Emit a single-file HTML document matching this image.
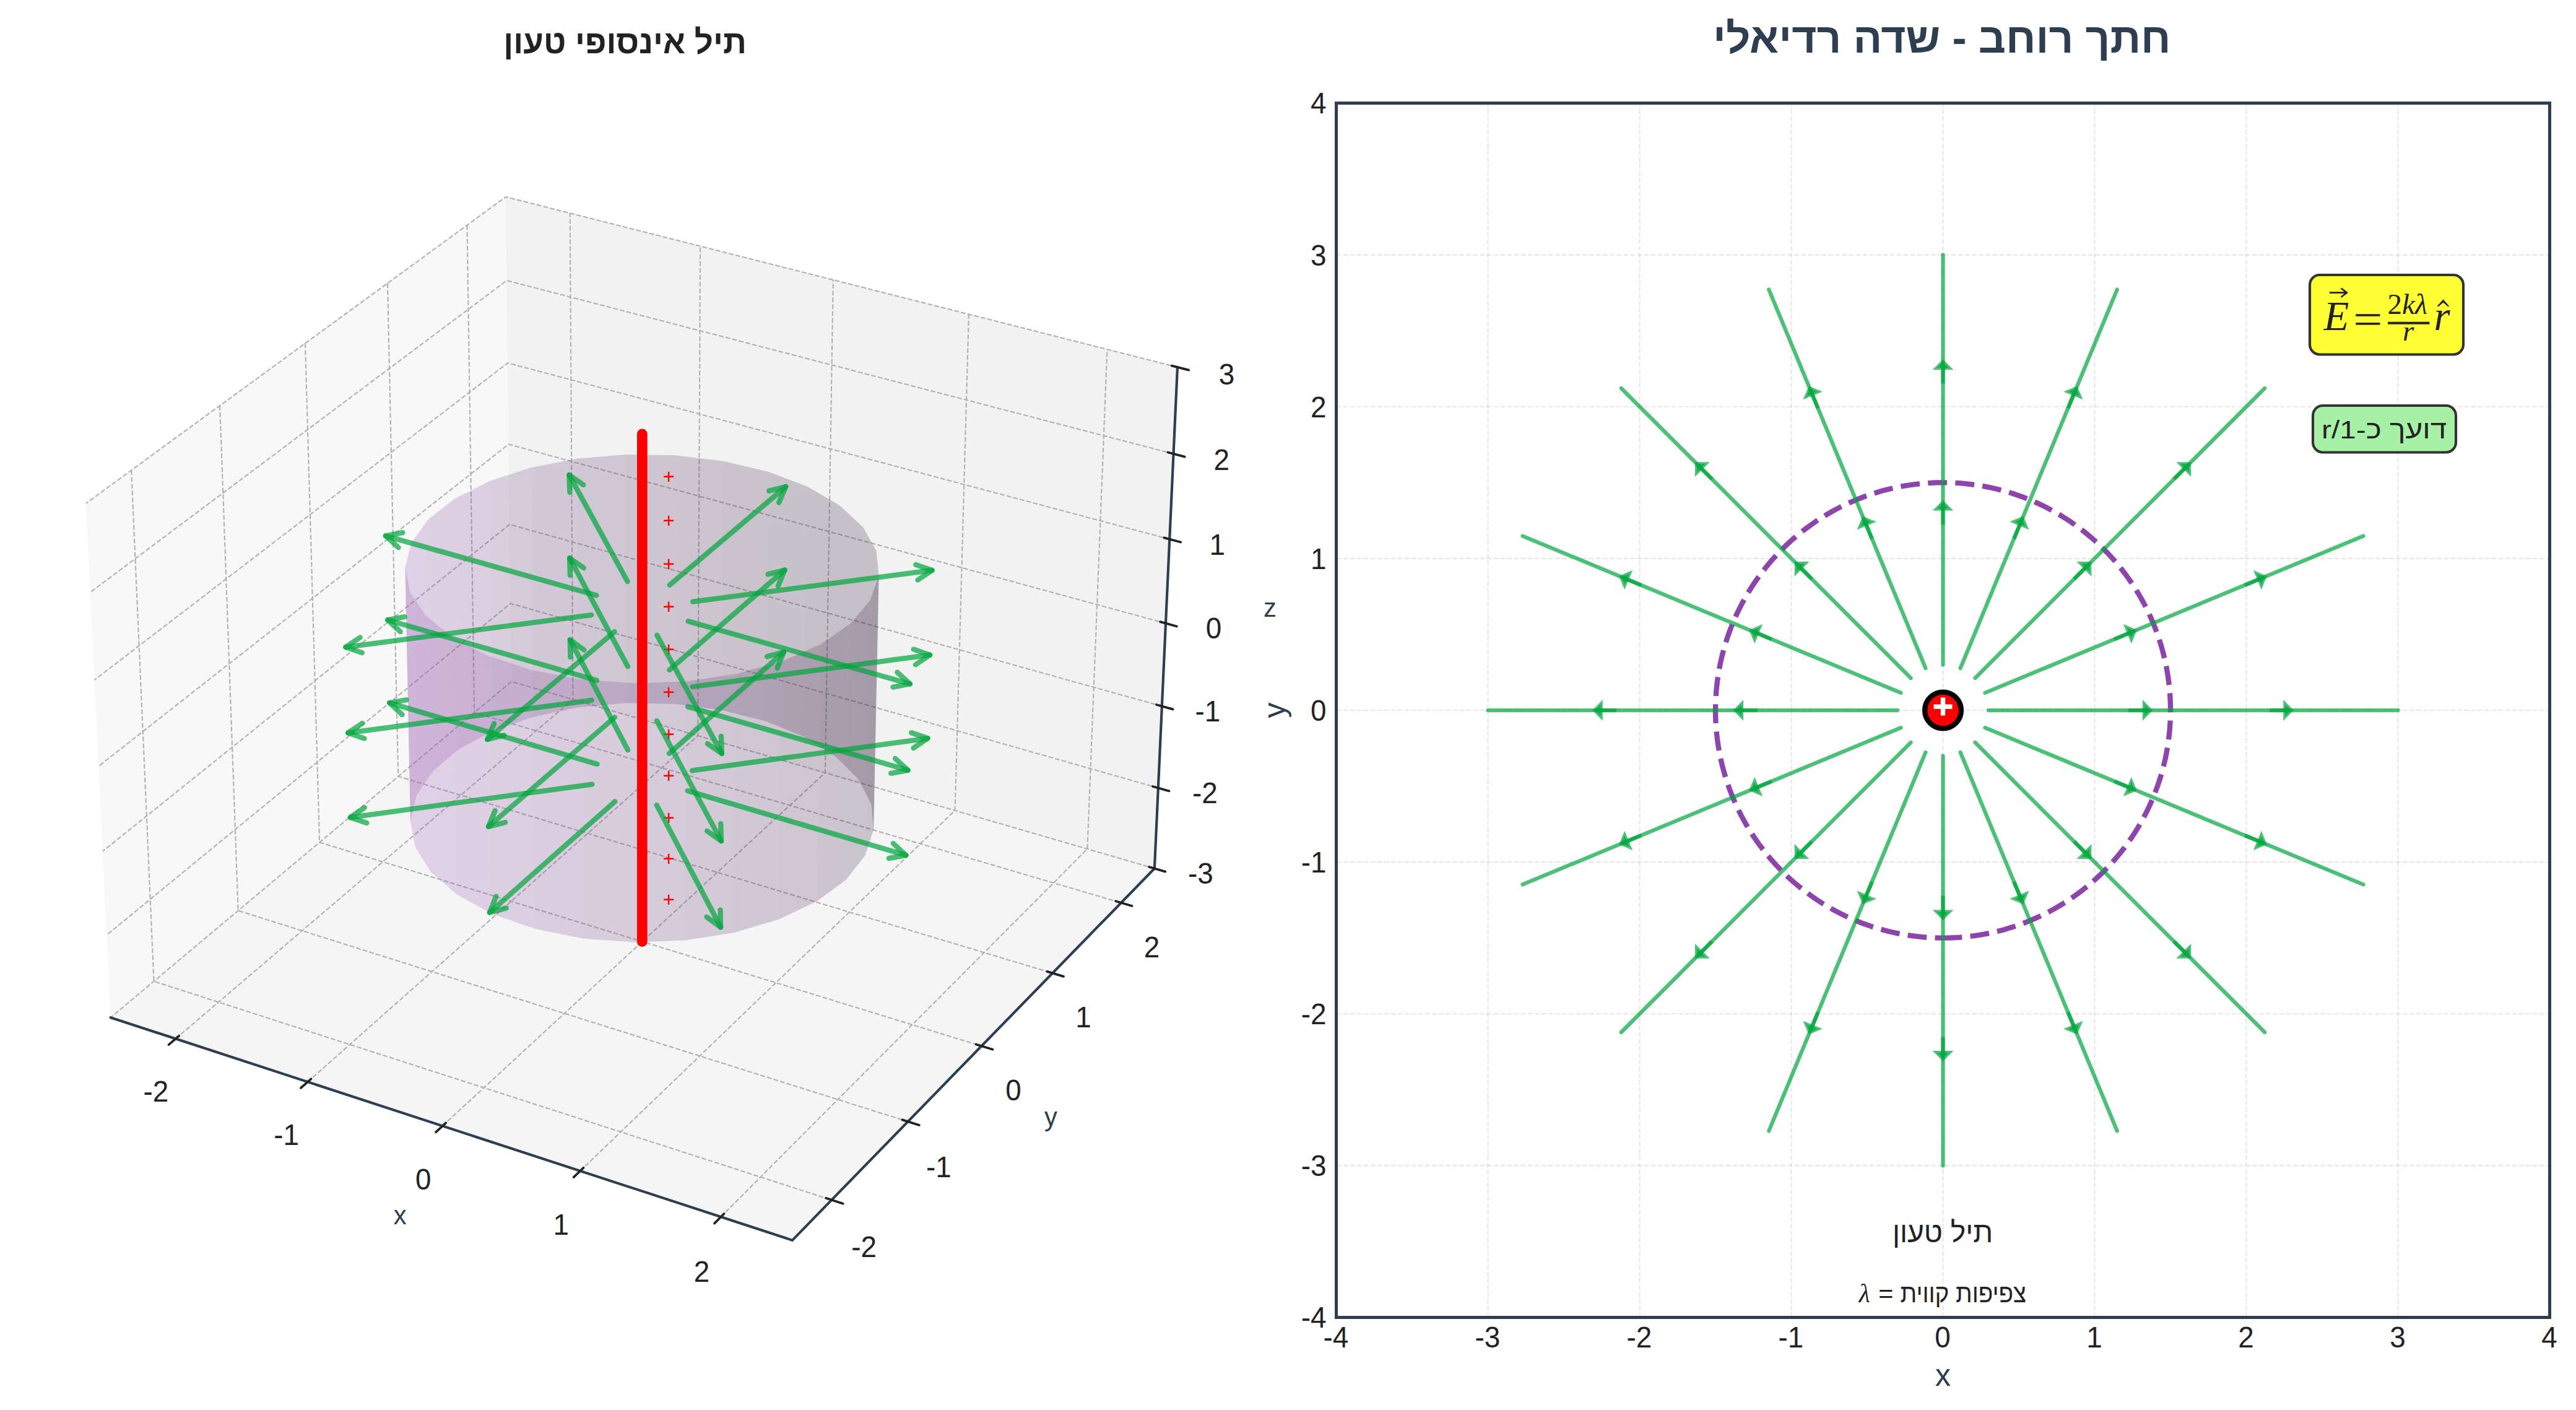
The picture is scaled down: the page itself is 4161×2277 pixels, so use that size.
<!DOCTYPE html>
<html><head><meta charset="utf-8"><title>Infinite charged wire</title>
<style>html,body{margin:0;padding:0;background:#fff;width:4161px;height:2277px;overflow:hidden}svg{display:block}</style>
</head><body>
<svg width="4161" height="2277" viewBox="0 0 4161 2277">
<style>path{stroke-linejoin:round;stroke-linecap:butt}</style>
<g> <g> <path d="M 0 2277 L 4161 2277 L 4161 0 L 0 0 z " style="fill: #ffffff"/> </g> <g> <path d="M 30.6539 2126.5731 L 1991.02653 2126.5731 L 1991.02653 166.20047 L 30.6539 166.20047 z " style="fill: #ffffff"/> </g> <g> <g> <path d="M 178.675553 1643.208034 L 826.054619 1100.562064 L 817.055429 317.969571 L 138.695938 813.00543 " style="fill: #f2f2f2; opacity: 0.5; stroke: #f2f2f2; stroke-linejoin: miter"/> </g> </g> <g> <g> <path d="M 826.054619 1100.562064 L 1864.867032 1402.503821 L 1901.938585 592.955826 L 817.055429 317.969571 " style="fill: #e6e6e6; opacity: 0.5; stroke: #e6e6e6; stroke-linejoin: miter"/> </g> </g> <g> <g> <path d="M 178.675553 1643.208034 L 1279.867449 2002.857305 L 1864.867032 1402.503821 L 826.054619 1100.562064 " style="fill: #ececec; opacity: 0.5; stroke: #ececec; stroke-linejoin: miter"/> </g> </g> <g> <g> <path d="M 283.67714 1677.501552 L 925.504488 1129.468215 L 920.717748 344.244947 " style="fill: none; stroke-dasharray: 7.708333,3.333333; stroke-dashoffset: 0; stroke: #b0b0b0; stroke-width: 2.083333"/> <path d="M 496.967442 1747.162164 L 1127.259519 1188.110438 L 1131.147289 397.582702 " style="fill: none; stroke-dasharray: 7.708333,3.333333; stroke-dashoffset: 0; stroke: #b0b0b0; stroke-width: 2.083333"/> <path d="M 714.756126 1818.291948 L 1332.913574 1247.885952 L 1345.821077 451.996249 " style="fill: none; stroke-dasharray: 7.708333,3.333333; stroke-dashoffset: 0; stroke: #b0b0b0; stroke-width: 2.083333"/> <path d="M 937.187018 1890.937877 L 1542.58078 1308.827932 L 1564.868826 507.518468 " style="fill: none; stroke-dasharray: 7.708333,3.333333; stroke-dashoffset: 0; stroke: #b0b0b0; stroke-width: 2.083333"/> <path d="M 1164.410141 1965.148948 L 1756.379766 1370.970856 L 1788.42559 564.183591 " style="fill: none; stroke-dasharray: 7.708333,3.333333; stroke-dashoffset: 0; stroke: #b0b0b0; stroke-width: 2.083333"/> </g> </g> <g> <g> <path d="M 212.164712 759.391265 L 248.551989 1584.63622 L 1343.259924 1937.801031 " style="fill: none; stroke-dasharray: 7.708333,3.333333; stroke-dashoffset: 0; stroke: #b0b0b0; stroke-width: 2.083333"/> <path d="M 355.108912 655.077099 L 384.671353 1470.538269 L 1466.574903 1811.249527 " style="fill: none; stroke-dasharray: 7.708333,3.333333; stroke-dashoffset: 0; stroke: #b0b0b0; stroke-width: 2.083333"/> <path d="M 492.965529 554.475618 L 516.152397 1360.328252 L 1585.470514 1689.233381 " style="fill: none; stroke-dasharray: 7.708333,3.333333; stroke-dashoffset: 0; stroke: #b0b0b0; stroke-width: 2.083333"/> <path d="M 626.001428 457.392079 L 643.228226 1253.810771 L 1700.180149 1571.513077 " style="fill: none; stroke-dasharray: 7.708333,3.333333; stroke-dashoffset: 0; stroke: #b0b0b0; stroke-width: 2.083333"/> <path d="M 754.465125 363.645124 L 766.116586 1150.803311 L 1810.921047 1457.865673 " style="fill: none; stroke-dasharray: 7.708333,3.333333; stroke-dashoffset: 0; stroke: #b0b0b0; stroke-width: 2.083333"/> </g> </g> <g> <g> <path d="M 1864.867032 1402.503821 L 826.054619 1100.562064 L 178.675553 1643.208034 " style="fill: none; stroke-dasharray: 7.708333,3.333333; stroke-dashoffset: 0; stroke: #b0b0b0; stroke-width: 2.083333"/> <path d="M 1870.82327 1272.4348 L 824.606167 974.600996 L 172.261166 1510.009126 " style="fill: none; stroke-dasharray: 7.708333,3.333333; stroke-dashoffset: 0; stroke: #b0b0b0; stroke-width: 2.083333"/> <path d="M 1876.865871 1140.479844 L 823.137718 846.900904 L 165.750223 1374.805179 " style="fill: none; stroke-dasharray: 7.708333,3.333333; stroke-dashoffset: 0; stroke: #b0b0b0; stroke-width: 2.083333"/> <path d="M 1882.996726 1006.597637 L 821.648854 717.425523 L 159.140528 1237.550575 " style="fill: none; stroke-dasharray: 7.708333,3.333333; stroke-dashoffset: 0; stroke: #b0b0b0; stroke-width: 2.083333"/> <path d="M 1889.217783 870.745646 L 820.139147 586.137576 L 152.429816 1098.198306 " style="fill: none; stroke-dasharray: 7.708333,3.333333; stroke-dashoffset: 0; stroke: #b0b0b0; stroke-width: 2.083333"/> <path d="M 1895.531047 732.880076 L 818.608157 452.998732 L 145.615755 956.699911 " style="fill: none; stroke-dasharray: 7.708333,3.333333; stroke-dashoffset: 0; stroke: #b0b0b0; stroke-width: 2.083333"/> <path d="M 1901.938585 592.955826 L 817.055429 317.969571 L 138.695938 813.00543 " style="fill: none; stroke-dasharray: 7.708333,3.333333; stroke-dashoffset: 0; stroke: #b0b0b0; stroke-width: 2.083333"/> </g> </g> <g> <g> <path d="M 178.675553 1643.208034 L 1279.867449 2002.857305 " style="fill: none; stroke: #2c3e50; stroke-width: 4.166667; stroke-linecap: round"/> </g> <g> <g> <path d="M 289.266989 1672.728581 L 272.47341 1687.068014 " style="fill: none; stroke: #222222; stroke-width: 3.75; stroke-linecap: round"/> </g> </g> <g> <g> <path d="M 502.461488 1742.289096 L 485.955482 1756.92947 " style="fill: none; stroke: #222222; stroke-width: 3.75; stroke-linecap: round"/> </g> </g> <g> <g> <path d="M 720.149067 1813.315601 L 703.946568 1828.266488 " style="fill: none; stroke: #222222; stroke-width: 3.75; stroke-linecap: round"/> </g> </g> <g> <g> <path d="M 942.473275 1885.854932 L 926.591049 1901.126318 " style="fill: none; stroke: #222222; stroke-width: 3.75; stroke-linecap: round"/> </g> </g> <g> <g> <path d="M 1169.583844 1959.955944 L 1154.039533 1975.558246 " style="fill: none; stroke: #222222; stroke-width: 3.75; stroke-linecap: round"/> </g> </g> </g> <g> <g> <path d="M 1864.867032 1402.503821 L 1279.867449 2002.857305 " style="fill: none; stroke: #2c3e50; stroke-width: 4.166667; stroke-linecap: round"/> </g> <g> <g> <path d="M 1334.036367 1934.82541 L 1361.730813 1943.759942 " style="fill: none; stroke: #222222; stroke-width: 3.75; stroke-linecap: round"/> </g> </g> <g> <g> <path d="M 1457.467628 1808.381479 L 1484.812498 1816.99288 " style="fill: none; stroke: #222222; stroke-width: 3.75; stroke-linecap: round"/> </g> </g> <g> <g> <path d="M 1576.477184 1686.467176 L 1603.479524 1694.772664 " style="fill: none; stroke: #222222; stroke-width: 3.75; stroke-linecap: round"/> </g> </g> <g> <g> <path d="M 1691.298454 1568.843386 L 1717.965221 1576.858976 " style="fill: none; stroke: #222222; stroke-width: 3.75; stroke-linecap: round"/> </g> </g> <g> <g> <path d="M 1802.148711 1455.287531 L 1828.486762 1463.028141 " style="fill: none; stroke: #222222; stroke-width: 3.75; stroke-linecap: round"/> </g> </g> </g> <g> <g> <path d="M 1864.867032 1402.503821 L 1901.938585 592.955826 " style="fill: none; stroke: #2c3e50; stroke-width: 4.166667; stroke-linecap: round"/> </g> <g> <g> <path d="M 1856.148534 1399.969698 L 1882.324763 1407.578094 " style="fill: none; stroke: #222222; stroke-width: 3.75; stroke-linecap: round"/> </g> </g> <g> <g> <path d="M 1862.03967 1269.934312 L 1888.41151 1277.441765 " style="fill: none; stroke: #222222; stroke-width: 3.75; stroke-linecap: round"/> </g> </g> <g> <g> <path d="M 1868.016191 1138.014237 L 1894.586584 1145.417008 " style="fill: none; stroke: #222222; stroke-width: 3.75; stroke-linecap: round"/> </g> </g> <g> <g> <path d="M 1874.079965 1004.168199 L 1900.851919 1011.462417 " style="fill: none; stroke: #222222; stroke-width: 3.75; stroke-linecap: round"/> </g> </g> <g> <g> <path d="M 1880.232918 868.353712 L 1907.209511 875.535369 " style="fill: none; stroke: #222222; stroke-width: 3.75; stroke-linecap: round"/> </g> </g> <g> <g> <path d="M 1886.477032 730.527029 L 1913.661411 737.591974 " style="fill: none; stroke: #222222; stroke-width: 3.75; stroke-linecap: round"/> </g> </g> <g> <g> <path d="M 1892.814347 590.643098 L 1920.209735 597.58703 " style="fill: none; stroke: #222222; stroke-width: 3.75; stroke-linecap: round"/> </g> </g> </g> <g> <g> <path d="M 1089.621569 1136.777693 L 1011.124564 1135.35611 L 1010.550877 733.920258 L 1090.766488 735.277887 z " style="fill: #563165; fill-opacity: 0.23"/> <path d="M 1011.124564 1135.35611 L 933.745703 1142.433525 L 931.475484 740.679411 L 1010.550877 733.920258 z " style="fill: #613771; fill-opacity: 0.23"/> <path d="M 1165.886036 1146.643407 L 1089.621569 1136.777693 L 1090.766488 735.277887 L 1168.705439 744.700141 z " style="fill: #4c2b59; fill-opacity: 0.23"/> <path d="M 933.745703 1142.433525 L 860.801822 1157.735952 L 856.923093 755.294874 L 931.475484 740.679411 z " style="fill: #6c3e7e; fill-opacity: 0.23"/> <path d="M 1236.63512 1164.570173 L 1165.886036 1146.643407 L 1168.705439 744.700141 L 1241.019198 761.822805 z " style="fill: #43264e; fill-opacity: 0.23"/> <path d="M 860.801822 1157.735952 L 795.472938 1180.663905 L 790.138568 777.196522 L 856.923093 755.294874 z " style="fill: #76448b; fill-opacity: 0.23"/> <path d="M 1298.758038 1189.851593 L 1236.63512 1164.570173 L 1241.019198 761.822805 L 1304.532746 785.973956 z " style="fill: #3b2246; fill-opacity: 0.23"/> <path d="M 795.472938 1180.663905 L 740.694542 1210.300959 L 734.119917 805.51227 L 790.138568 777.196522 z " style="fill: #804a97; fill-opacity: 0.23"/> <path d="M 1349.425874 1221.468725 L 1298.758038 1189.851593 L 1304.532746 785.973956 L 1356.355803 816.183699 z " style="fill: #361f3f; fill-opacity: 0.23"/> <path d="M 740.694542 1210.300959 L 699.043299 1245.429939 L 691.502152 839.082859 L 734.119917 805.51227 z " style="fill: #894fa1; fill-opacity: 0.23"/> <path d="M 1386.208058 1258.109535 L 1349.425874 1221.468725 L 1356.355803 816.183699 L 1394.001378 851.202032 z " style="fill: #331d3b; fill-opacity: 0.23"/> <path d="M 699.043299 1245.429939 L 672.61696 1284.560104 L 664.434617 876.48705 L 691.502152 839.082859 z " style="fill: #9053a9; fill-opacity: 0.23"/> <path d="M 1407.19362 1298.200563 L 1386.208058 1258.109535 L 1394.001378 851.202032 L 1415.509858 889.528305 z " style="fill: #321c3a; fill-opacity: 0.23"/> <path d="M 672.61696 1284.560104 L 662.91281 1325.968947 L 654.45614 916.080793 L 664.434617 876.48705 z " style="fill: #9555af; fill-opacity: 0.23"/> <path d="M 1411.111566 1339.954329 L 1407.19362 1298.200563 L 1415.509858 889.528305 L 1419.572894 929.455792 z " style="fill: #331d3c; fill-opacity: 0.23"/> <path d="M 662.91281 1325.968947 L 670.712996 1367.761702 L 662.376536 956.053498 L 654.45614 916.080793 z " style="fill: #9757b2; fill-opacity: 0.23"/> <path d="M 1397.440745 1381.435203 L 1411.111566 1339.954329 L 1419.572894 929.455792 L 1405.647171 969.134116 z " style="fill: #372040; fill-opacity: 0.23"/> <path d="M 670.712996 1367.761702 L 695.988808 1407.950117 L 688.176966 994.502988 L 662.376536 956.053498 z " style="fill: #9857b2; fill-opacity: 0.23"/> <path d="M 1366.496056 1420.644516 L 1397.440745 1381.435203 L 1405.647171 969.134116 L 1374.044453 1006.650404 z " style="fill: #3d2347; fill-opacity: 0.23"/> <path d="M 695.988808 1407.950117 L 737.838587 1444.549465 L 730.944442 1029.528315 L 688.176966 994.502988 z " style="fill: #9656b0; fill-opacity: 0.23"/> <path d="M 1319.475922 1455.622876 L 1366.496056 1420.644516 L 1374.044453 1006.650404 L 1325.982125 1040.127299 z " style="fill: #452751; fill-opacity: 0.23"/> <path d="M 737.838587 1444.549465 L 794.474331 1475.68947 L 788.856259 1059.3363 L 730.944442 1029.528315 z " style="fill: #9153ab; fill-opacity: 0.23"/> <path d="M 1258.456474 1484.564132 L 1319.475922 1455.622876 L 1325.982125 1040.127299 L 1263.578974 1067.832562 z " style="fill: #4e2d5c; fill-opacity: 0.23"/> <path d="M 794.474331 1475.68947 L 863.269372 1499.731216 L 859.227449 1082.354195 L 788.856259 1059.3363 z " style="fill: #8b50a3; fill-opacity: 0.23"/> <path d="M 1186.3217 1505.931977 L 1258.456474 1484.564132 L 1263.578974 1067.832562 L 1189.784791 1088.29153 z " style="fill: #583368; fill-opacity: 0.23"/> <path d="M 863.269372 1499.731216 L 940.87355 1515.379171 L 938.628164 1097.337885 L 859.227449 1082.354195 z " style="fill: #834b99; fill-opacity: 0.23"/> <path d="M 1106.625815 1518.5676 L 1186.3217 1505.931977 L 1189.784791 1088.29153 L 1108.239674 1100.391169 z " style="fill: #633975; fill-opacity: 0.23"/> <path d="M 940.87355 1515.379171 L 1023.393507 1521.775886 L 1023.068722 1103.463538 L 938.628164 1097.337885 z " style="fill: #79458e; fill-opacity: 0.23"/> <path d="M 1023.393507 1521.775886 L 1106.625815 1518.5676 L 1108.239674 1100.391169 L 1023.068722 1103.463538 z " style="fill: #6e3f82; fill-opacity: 0.23"/> </g> <text x="1080.3" y="1464.1" style="font-family:'Liberation Sans';font-size:33.33px;fill:#ff0000" text-anchor="middle">+</text>
<text x="1080.3" y="1398.0" style="font-family:'Liberation Sans';font-size:33.33px;fill:#ff0000" text-anchor="middle">+</text>
<text x="1080.3" y="1331.5" style="font-family:'Liberation Sans';font-size:33.33px;fill:#ff0000" text-anchor="middle">+</text>
<text x="1080.3" y="1264.4" style="font-family:'Liberation Sans';font-size:33.33px;fill:#ff0000" text-anchor="middle">+</text>
<text x="1080.3" y="1196.9" style="font-family:'Liberation Sans';font-size:33.33px;fill:#ff0000" text-anchor="middle">+</text>
<text x="1080.3" y="1128.9" style="font-family:'Liberation Sans';font-size:33.33px;fill:#ff0000" text-anchor="middle">+</text>
<text x="1080.3" y="1060.4" style="font-family:'Liberation Sans';font-size:33.33px;fill:#ff0000" text-anchor="middle">+</text>
<text x="1080.3" y="991.3" style="font-family:'Liberation Sans';font-size:33.33px;fill:#ff0000" text-anchor="middle">+</text>
<text x="1080.3" y="921.7" style="font-family:'Liberation Sans';font-size:33.33px;fill:#ff0000" text-anchor="middle">+</text>
<text x="1080.3" y="851.6" style="font-family:'Liberation Sans';font-size:33.33px;fill:#ff0000" text-anchor="middle">+</text>
<text x="1080.3" y="781.0" style="font-family:'Liberation Sans';font-size:33.33px;fill:#ff0000" text-anchor="middle">+</text><g> <path d="M 1111.601923 1003.267866 Q 1295.262796 1055.093877 1469.956881 1104.389612 " style="fill: none; opacity: 0.7; stroke: #00a53c; stroke-width: 8.333333; stroke-linecap: round"/> <path d="M 1449.291191 1085.569961 L 1469.956881 1104.389612 L 1442.501747 1109.630374 " style="fill: none; opacity: 0.7; stroke: #00a53c; stroke-width: 8.333333; stroke-linecap: round"/> </g> <g> <path d="M 1119.135557 971.596903 Q 1317.019455 945.681697 1505.665287 920.976323 " style="fill: none; opacity: 0.7; stroke: #00a53c; stroke-width: 8.333333; stroke-linecap: round"/> <path d="M 1479.253794 911.828478 L 1505.665287 920.976323 L 1482.500116 936.61681 " style="fill: none; opacity: 0.7; stroke: #00a53c; stroke-width: 8.333333; stroke-linecap: round"/> </g> <g> <path d="M 1081.614795 944.822265 Q 1178.974475 862.40247 1269.223111 786.002526 " style="fill: none; opacity: 0.7; stroke: #00a53c; stroke-width: 8.333333; stroke-linecap: round"/> <path d="M 1242.065699 792.615015 L 1269.223111 786.002526 L 1258.218655 811.695948 " style="fill: none; opacity: 0.7; stroke: #00a53c; stroke-width: 8.333333; stroke-linecap: round"/> </g> <g> <path d="M 1013.705804 939.21493 Q 964.269847 849.040737 919.312779 767.036312 " style="fill: none; opacity: 0.7; stroke: #00a53c; stroke-width: 8.333333; stroke-linecap: round"/> <path d="M 920.370009 794.96716 L 919.312779 767.036312 L 942.291795 782.949037 " style="fill: none; opacity: 0.7; stroke: #00a53c; stroke-width: 8.333333; stroke-linecap: round"/> </g> <g> <path d="M 963.473868 961.468619 Q 788.756874 912.166421 623.006666 865.394498 " style="fill: none; opacity: 0.7; stroke: #00a53c; stroke-width: 8.333333; stroke-linecap: round"/> <path d="M 643.672357 884.214148 L 623.006666 865.394498 L 650.461801 860.153736 " style="fill: none; opacity: 0.7; stroke: #00a53c; stroke-width: 8.333333; stroke-linecap: round"/> </g> <g> <path d="M 955.289711 993.05443 Q 752.241779 1019.645927 558.431913 1045.027591 " style="fill: none; opacity: 0.7; stroke: #00a53c; stroke-width: 8.333333; stroke-linecap: round"/> <path d="M 584.843406 1054.175436 L 558.431913 1045.027591 L 581.597084 1029.387104 " style="fill: none; opacity: 0.7; stroke: #00a53c; stroke-width: 8.333333; stroke-linecap: round"/> </g> <g> <path d="M 992.638369 1020.14522 Q 886.324839 1110.144893 787.122353 1194.124715 " style="fill: none; opacity: 0.7; stroke: #00a53c; stroke-width: 8.333333; stroke-linecap: round"/> <path d="M 814.279764 1187.512226 L 787.122353 1194.124715 L 798.126809 1168.431292 " style="fill: none; opacity: 0.7; stroke: #00a53c; stroke-width: 8.333333; stroke-linecap: round"/> </g> <g> <path d="M 1061.193051 1025.834556 Q 1115.799568 1125.440164 1165.927196 1216.876006 " style="fill: none; opacity: 0.7; stroke: #00a53c; stroke-width: 8.333333; stroke-linecap: round"/> <path d="M 1164.869967 1188.945158 L 1165.927196 1216.876006 L 1142.94818 1200.96328 " style="fill: none; opacity: 0.7; stroke: #00a53c; stroke-width: 8.333333; stroke-linecap: round"/> </g> <g> <path d="M 1111.092788 1141.188244 Q 1293.30867 1193.789438 1466.573116 1243.806575 " style="fill: none; opacity: 0.7; stroke: #00a53c; stroke-width: 8.333333; stroke-linecap: round"/> <path d="M 1446.020769 1224.863211 L 1466.573116 1243.806575 L 1439.087017 1248.882434 " style="fill: none; opacity: 0.7; stroke: #00a53c; stroke-width: 8.333333; stroke-linecap: round"/> </g> <g> <path d="M 1118.584724 1109.009426 Q 1314.959112 1082.700247 1502.099057 1057.628248 " style="fill: none; opacity: 0.7; stroke: #00a53c; stroke-width: 8.333333; stroke-linecap: round"/> <path d="M 1475.660594 1048.558647 L 1502.099057 1057.628248 L 1478.980298 1073.337258 " style="fill: none; opacity: 0.7; stroke: #00a53c; stroke-width: 8.333333; stroke-linecap: round"/> </g> <g> <path d="M 1081.276125 1081.838306 Q 1177.955469 998.111539 1267.59186 920.484146 " style="fill: none; opacity: 0.7; stroke: #00a53c; stroke-width: 8.333333; stroke-linecap: round"/> <path d="M 1240.510466 927.401376 L 1267.59186 920.484146 L 1256.876808 946.2996 " style="fill: none; opacity: 0.7; stroke: #00a53c; stroke-width: 8.333333; stroke-linecap: round"/> </g> <g> <path d="M 1013.921508 1076.211181 Q 964.7966 984.542854 920.07253 901.086602 " style="fill: none; opacity: 0.7; stroke: #00a53c; stroke-width: 8.333333; stroke-linecap: round"/> <path d="M 920.863562 929.026256 L 920.07253 901.086602 L 942.898872 917.217569 " style="fill: none; opacity: 0.7; stroke: #00a53c; stroke-width: 8.333333; stroke-linecap: round"/> </g> <g> <path d="M 963.976216 1098.719348 Q 790.572231 1048.661929 626.119682 1001.188567 " style="fill: none; opacity: 0.7; stroke: #00a53c; stroke-width: 8.333333; stroke-linecap: round"/> <path d="M 646.672029 1020.131931 L 626.119682 1001.188567 L 653.605781 996.112708 " style="fill: none; opacity: 0.7; stroke: #00a53c; stroke-width: 8.333333; stroke-linecap: round"/> </g> <g> <path d="M 955.844184 1130.812525 Q 754.385344 1157.802891 562.160947 1183.556077 " style="fill: none; opacity: 0.7; stroke: #00a53c; stroke-width: 8.333333; stroke-linecap: round"/> <path d="M 588.59941 1192.625678 L 562.160947 1183.556077 L 585.279706 1167.847067 " style="fill: none; opacity: 0.7; stroke: #00a53c; stroke-width: 8.333333; stroke-linecap: round"/> </g> <g> <path d="M 992.981276 1158.303889 Q 887.482381 1249.668611 789.026439 1334.933958 " style="fill: none; opacity: 0.7; stroke: #00a53c; stroke-width: 8.333333; stroke-linecap: round"/> <path d="M 816.107834 1328.016729 L 789.026439 1334.933958 L 799.741492 1309.118505 " style="fill: none; opacity: 0.7; stroke: #00a53c; stroke-width: 8.333333; stroke-linecap: round"/> </g> <g> <path d="M 1060.974163 1164.01263 Q 1115.194493 1265.189143 1165.013985 1358.15358 " style="fill: none; opacity: 0.7; stroke: #00a53c; stroke-width: 8.333333; stroke-linecap: round"/> <path d="M 1164.222953 1330.213926 L 1165.013985 1358.15358 L 1142.187642 1342.022613 " style="fill: none; opacity: 0.7; stroke: #00a53c; stroke-width: 8.333333; stroke-linecap: round"/> </g> <g> <path d="M 1110.5912 1277.064936 Q 1291.381133 1330.410836 1463.235015 1381.119965 " style="fill: none; opacity: 0.7; stroke: #00a53c; stroke-width: 8.333333; stroke-linecap: round"/> <path d="M 1442.794676 1362.055796 L 1463.235015 1381.119965 L 1435.719477 1386.033735 " style="fill: none; opacity: 0.7; stroke: #00a53c; stroke-width: 8.333333; stroke-linecap: round"/> </g> <g> <path d="M 1118.042014 1244.39547 Q 1312.925891 1217.707485 1498.57897 1192.283593 " style="fill: none; opacity: 0.7; stroke: #00a53c; stroke-width: 8.333333; stroke-linecap: round"/> <path d="M 1472.114182 1183.291096 L 1498.57897 1192.283593 L 1475.5061 1208.059925 " style="fill: none; opacity: 0.7; stroke: #00a53c; stroke-width: 8.333333; stroke-linecap: round"/> </g> <g> <path d="M 1080.93616 1216.848952 Q 1176.944817 1131.860788 1265.977181 1053.048132 " style="fill: none; opacity: 0.7; stroke: #00a53c; stroke-width: 8.333333; stroke-linecap: round"/> <path d="M 1238.972511 1060.259082 L 1265.977181 1053.048132 L 1255.543138 1078.978438 " style="fill: none; opacity: 0.7; stroke: #00a53c; stroke-width: 8.333333; stroke-linecap: round"/> </g> <g> <path d="M 1014.130869 1211.195536 Q 965.314148 1118.083981 920.823617 1033.22407 " style="fill: none; opacity: 0.7; stroke: #00a53c; stroke-width: 8.333333; stroke-linecap: round"/> <path d="M 921.361258 1061.169749 L 920.823617 1033.22407 L 943.502745 1049.561364 " style="fill: none; opacity: 0.7; stroke: #00a53c; stroke-width: 8.333333; stroke-linecap: round"/> </g> <g> <path d="M 964.47117 1233.949125 Q 792.363931 1183.165238 629.192743 1135.018122 " style="fill: none; opacity: 0.7; stroke: #00a53c; stroke-width: 8.333333; stroke-linecap: round"/> <path d="M 649.633082 1154.08229 L 629.192743 1135.018122 L 656.708281 1130.104351 " style="fill: none; opacity: 0.7; stroke: #00a53c; stroke-width: 8.333333; stroke-linecap: round"/> </g> <g> <path d="M 956.390453 1266.532522 Q 756.496935 1293.906543 565.834215 1320.016471 " style="fill: none; opacity: 0.7; stroke: #00a53c; stroke-width: 8.333333; stroke-linecap: round"/> <path d="M 592.299003 1329.008967 L 565.834215 1320.016471 L 588.907085 1304.240138 " style="fill: none; opacity: 0.7; stroke: #00a53c; stroke-width: 8.333333; stroke-linecap: round"/> </g> <g> <path d="M 993.325831 1294.402804 Q 888.629037 1387.081825 790.908536 1473.585338 " style="fill: none; opacity: 0.7; stroke: #00a53c; stroke-width: 8.333333; stroke-linecap: round"/> <path d="M 817.913206 1466.374388 L 790.908536 1473.585338 L 801.342578 1447.655032 " style="fill: none; opacity: 0.7; stroke: #00a53c; stroke-width: 8.333333; stroke-linecap: round"/> </g> <g> <path d="M 1060.762093 1300.13854 Q 1114.598819 1402.825102 1164.109355 1497.260021 " style="fill: none; opacity: 0.7; stroke: #00a53c; stroke-width: 8.333333; stroke-linecap: round"/> <path d="M 1163.571713 1469.314342 L 1164.109355 1497.260021 L 1141.430227 1480.922727 " style="fill: none; opacity: 0.7; stroke: #00a53c; stroke-width: 8.333333; stroke-linecap: round"/> </g> <g> <path d="M 1037.331737 1520.634671 L 1037.331737 700.857251 " style="fill: none; stroke: #ff0000; stroke-width: 16.666667; stroke-linecap: round"/> </g> </g> </g>  
<path d="M2403.50 2127.50L2403.50 166.50" style="fill:none;stroke:#b0b0b0;stroke-opacity:0.3;stroke-width:2.083;stroke-dasharray:7.708,3.333"/>
<path d="M2158.50 1882.38L4118.50 1882.38" style="fill:none;stroke:#b0b0b0;stroke-opacity:0.3;stroke-width:2.083;stroke-dasharray:7.708,3.333"/>
<path d="M2648.50 2127.50L2648.50 166.50" style="fill:none;stroke:#b0b0b0;stroke-opacity:0.3;stroke-width:2.083;stroke-dasharray:7.708,3.333"/>
<path d="M2158.50 1637.25L4118.50 1637.25" style="fill:none;stroke:#b0b0b0;stroke-opacity:0.3;stroke-width:2.083;stroke-dasharray:7.708,3.333"/>
<path d="M2893.50 2127.50L2893.50 166.50" style="fill:none;stroke:#b0b0b0;stroke-opacity:0.3;stroke-width:2.083;stroke-dasharray:7.708,3.333"/>
<path d="M2158.50 1392.12L4118.50 1392.12" style="fill:none;stroke:#b0b0b0;stroke-opacity:0.3;stroke-width:2.083;stroke-dasharray:7.708,3.333"/>
<path d="M3138.50 2127.50L3138.50 166.50" style="fill:none;stroke:#b0b0b0;stroke-opacity:0.3;stroke-width:2.083;stroke-dasharray:7.708,3.333"/>
<path d="M2158.50 1147.00L4118.50 1147.00" style="fill:none;stroke:#b0b0b0;stroke-opacity:0.3;stroke-width:2.083;stroke-dasharray:7.708,3.333"/>
<path d="M3383.50 2127.50L3383.50 166.50" style="fill:none;stroke:#b0b0b0;stroke-opacity:0.3;stroke-width:2.083;stroke-dasharray:7.708,3.333"/>
<path d="M2158.50 901.88L4118.50 901.88" style="fill:none;stroke:#b0b0b0;stroke-opacity:0.3;stroke-width:2.083;stroke-dasharray:7.708,3.333"/>
<path d="M3628.50 2127.50L3628.50 166.50" style="fill:none;stroke:#b0b0b0;stroke-opacity:0.3;stroke-width:2.083;stroke-dasharray:7.708,3.333"/>
<path d="M2158.50 656.75L4118.50 656.75" style="fill:none;stroke:#b0b0b0;stroke-opacity:0.3;stroke-width:2.083;stroke-dasharray:7.708,3.333"/>
<path d="M3873.50 2127.50L3873.50 166.50" style="fill:none;stroke:#b0b0b0;stroke-opacity:0.3;stroke-width:2.083;stroke-dasharray:7.708,3.333"/>
<path d="M2158.50 411.62L4118.50 411.62" style="fill:none;stroke:#b0b0b0;stroke-opacity:0.3;stroke-width:2.083;stroke-dasharray:7.708,3.333"/>
<path d="M3138.50 1514.69L3144.91 1514.63L3151.33 1514.46L3157.73 1514.18L3164.14 1513.79L3170.53 1513.29L3176.91 1512.67L3183.29 1511.95L3189.65 1511.11L3195.99 1510.16L3202.32 1509.10L3208.62 1507.93L3214.91 1506.65L3221.17 1505.26L3227.41 1503.77L3233.62 1502.16L3239.80 1500.44L3245.95 1498.62L3252.06 1496.69L3258.15 1494.66L3264.19 1492.51L3270.20 1490.27L3276.17 1487.91L3282.09 1485.46L3287.98 1482.90L3293.81 1480.24L3299.60 1477.48L3305.34 1474.61L3311.03 1471.65L3316.67 1468.59L3322.25 1465.43L3327.78 1462.17L3333.25 1458.82L3338.65 1455.37L3344.00 1451.83L3349.29 1448.19L3354.51 1444.47L3359.67 1440.65L3364.76 1436.74L3369.78 1432.75L3374.72 1428.66L3379.60 1424.50L3384.41 1420.25L3389.13 1415.91L3393.79 1411.49L3398.36 1406.99L3402.86 1402.42L3407.27 1397.76L3411.61 1393.03L3415.86 1388.22L3420.02 1383.34L3424.10 1378.39L3428.09 1373.37L3432.00 1368.28L3435.81 1363.12L3439.54 1357.90L3443.17 1352.61L3446.71 1347.26L3450.16 1341.84L3453.51 1336.37L3456.76 1330.84L3459.92 1325.26L3462.98 1319.62L3465.94 1313.93L3468.81 1308.18L3471.57 1302.39L3474.23 1296.55L3476.79 1290.67L3479.24 1284.74L3481.59 1278.77L3483.84 1272.76L3485.98 1266.71L3488.01 1260.62L3489.94 1254.50L3491.76 1248.35L3493.48 1242.16L3495.08 1235.95L3496.58 1229.71L3497.97 1223.45L3499.25 1217.16L3500.42 1210.85L3501.48 1204.52L3502.42 1198.17L3503.26 1191.81L3503.99 1185.43L3504.60 1179.05L3505.10 1172.65L3505.50 1166.24L3505.78 1159.83L3505.94 1153.42L3506.00 1147.00L3505.94 1140.58L3505.78 1134.17L3505.50 1127.76L3505.10 1121.35L3504.60 1114.95L3503.99 1108.57L3503.26 1102.19L3502.42 1095.83L3501.48 1089.48L3500.42 1083.15L3499.25 1076.84L3497.97 1070.55L3496.58 1064.29L3495.08 1058.05L3493.48 1051.84L3491.76 1045.65L3489.94 1039.50L3488.01 1033.38L3485.98 1027.29L3483.84 1021.24L3481.59 1015.23L3479.24 1009.26L3476.79 1003.33L3474.23 997.45L3471.57 991.61L3468.81 985.82L3465.94 980.07L3462.98 974.38L3459.92 968.74L3456.76 963.16L3453.51 957.63L3450.16 952.16L3446.71 946.74L3443.17 941.39L3439.54 936.10L3435.81 930.88L3432.00 925.72L3428.09 920.63L3424.10 915.61L3420.02 910.66L3415.86 905.78L3411.61 900.97L3407.27 896.24L3402.86 891.58L3398.36 887.01L3393.79 882.51L3389.13 878.09L3384.41 873.75L3379.60 869.50L3374.72 865.34L3369.78 861.25L3364.76 857.26L3359.67 853.35L3354.51 849.53L3349.29 845.81L3344.00 842.17L3338.65 838.63L3333.25 835.18L3327.78 831.83L3322.25 828.57L3316.67 825.41L3311.03 822.35L3305.34 819.39L3299.60 816.52L3293.81 813.76L3287.98 811.10L3282.09 808.54L3276.17 806.09L3270.20 803.73L3264.19 801.49L3258.15 799.34L3252.06 797.31L3245.95 795.38L3239.80 793.56L3233.62 791.84L3227.41 790.23L3221.17 788.74L3214.91 787.35L3208.62 786.07L3202.32 784.90L3195.99 783.84L3189.65 782.89L3183.29 782.05L3176.91 781.33L3170.53 780.71L3164.14 780.21L3157.73 779.82L3151.33 779.54L3144.91 779.37L3138.50 779.31L3132.09 779.37L3125.67 779.54L3119.27 779.82L3112.86 780.21L3106.47 780.71L3100.09 781.33L3093.71 782.05L3087.35 782.89L3081.01 783.84L3074.68 784.90L3068.38 786.07L3062.09 787.35L3055.83 788.74L3049.59 790.23L3043.38 791.84L3037.20 793.56L3031.05 795.38L3024.94 797.31L3018.85 799.34L3012.81 801.49L3006.80 803.73L3000.83 806.09L2994.91 808.54L2989.02 811.10L2983.19 813.76L2977.40 816.52L2971.66 819.39L2965.97 822.35L2960.33 825.41L2954.75 828.57L2949.22 831.83L2943.75 835.18L2938.35 838.63L2933.00 842.17L2927.71 845.81L2922.49 849.53L2917.33 853.35L2912.24 857.26L2907.22 861.25L2902.28 865.34L2897.40 869.50L2892.59 873.75L2887.87 878.09L2883.21 882.51L2878.64 887.01L2874.14 891.58L2869.73 896.24L2865.39 900.97L2861.14 905.78L2856.98 910.66L2852.90 915.61L2848.91 920.63L2845.00 925.72L2841.19 930.88L2837.46 936.10L2833.83 941.39L2830.29 946.74L2826.84 952.16L2823.49 957.63L2820.24 963.16L2817.08 968.74L2814.02 974.38L2811.06 980.07L2808.19 985.82L2805.43 991.61L2802.77 997.45L2800.21 1003.33L2797.76 1009.26L2795.41 1015.23L2793.16 1021.24L2791.02 1027.29L2788.99 1033.38L2787.06 1039.50L2785.24 1045.65L2783.52 1051.84L2781.92 1058.05L2780.42 1064.29L2779.03 1070.55L2777.75 1076.84L2776.58 1083.15L2775.52 1089.48L2774.58 1095.83L2773.74 1102.19L2773.01 1108.57L2772.40 1114.95L2771.90 1121.35L2771.50 1127.76L2771.22 1134.17L2771.06 1140.58L2771.00 1147.00L2771.06 1153.42L2771.22 1159.83L2771.50 1166.24L2771.90 1172.65L2772.40 1179.05L2773.01 1185.43L2773.74 1191.81L2774.58 1198.17L2775.52 1204.52L2776.58 1210.85L2777.75 1217.16L2779.03 1223.45L2780.42 1229.71L2781.92 1235.95L2783.52 1242.16L2785.24 1248.35L2787.06 1254.50L2788.99 1260.62L2791.02 1266.71L2793.16 1272.76L2795.41 1278.77L2797.76 1284.74L2800.21 1290.67L2802.77 1296.55L2805.43 1302.39L2808.19 1308.18L2811.06 1313.93L2814.02 1319.62L2817.08 1325.26L2820.24 1330.84L2823.49 1336.37L2826.84 1341.84L2830.29 1347.26L2833.83 1352.61L2837.46 1357.90L2841.19 1363.12L2845.00 1368.28L2848.91 1373.37L2852.90 1378.39L2856.98 1383.34L2861.14 1388.22L2865.39 1393.03L2869.73 1397.76L2874.14 1402.42L2878.64 1406.99L2883.21 1411.49L2887.87 1415.91L2892.59 1420.25L2897.40 1424.50L2902.28 1428.66L2907.22 1432.75L2912.24 1436.74L2917.33 1440.65L2922.49 1444.47L2927.71 1448.19L2933.00 1451.83L2938.35 1455.37L2943.75 1458.82L2949.22 1462.17L2954.75 1465.43L2960.33 1468.59L2965.97 1471.65L2971.66 1474.61L2977.40 1477.48L2983.19 1480.24L2989.02 1482.90L2994.91 1485.46L3000.83 1487.91L3006.80 1490.27L3012.81 1492.51L3018.85 1494.66L3024.94 1496.69L3031.05 1498.62L3037.20 1500.44L3043.38 1502.16L3049.59 1503.77L3055.83 1505.26L3062.09 1506.65L3068.38 1507.93L3074.68 1509.10L3081.01 1510.16L3087.35 1511.11L3093.71 1511.95L3100.09 1512.67L3106.47 1513.29L3112.86 1513.79L3119.27 1514.18L3125.67 1514.46L3132.09 1514.63L3138.50 1514.69" style="fill:none;stroke:#8e44ad;stroke-width:8.333;stroke-dasharray:30.833,13.333"/>
<path d="M3212.00 1147.00L3873.50 1147.00" style="fill:none;stroke:#00a53c;stroke-opacity:0.7;stroke-width:6.25;stroke-linecap:round"/>
<path d="M3206.41 1118.86L3817.55 865.58" style="fill:none;stroke:#00a53c;stroke-opacity:0.7;stroke-width:6.25;stroke-linecap:round"/>
<path d="M3190.47 1095.00L3658.22 627.01" style="fill:none;stroke:#00a53c;stroke-opacity:0.7;stroke-width:6.25;stroke-linecap:round"/>
<path d="M3166.63 1079.06L3419.77 467.60" style="fill:none;stroke:#00a53c;stroke-opacity:0.7;stroke-width:6.25;stroke-linecap:round"/>
<path d="M3138.50 1073.46L3138.50 411.62" style="fill:none;stroke:#00a53c;stroke-opacity:0.7;stroke-width:6.25;stroke-linecap:round"/>
<path d="M3110.37 1079.06L2857.23 467.60" style="fill:none;stroke:#00a53c;stroke-opacity:0.7;stroke-width:6.25;stroke-linecap:round"/>
<path d="M3086.53 1095.00L2618.78 627.01" style="fill:none;stroke:#00a53c;stroke-opacity:0.7;stroke-width:6.25;stroke-linecap:round"/>
<path d="M3070.59 1118.86L2459.45 865.58" style="fill:none;stroke:#00a53c;stroke-opacity:0.7;stroke-width:6.25;stroke-linecap:round"/>
<path d="M3065.00 1147.00L2403.50 1147.00" style="fill:none;stroke:#00a53c;stroke-opacity:0.7;stroke-width:6.25;stroke-linecap:round"/>
<path d="M3070.59 1175.14L2459.45 1428.42" style="fill:none;stroke:#00a53c;stroke-opacity:0.7;stroke-width:6.25;stroke-linecap:round"/>
<path d="M3086.53 1199.00L2618.78 1666.99" style="fill:none;stroke:#00a53c;stroke-opacity:0.7;stroke-width:6.25;stroke-linecap:round"/>
<path d="M3110.37 1214.94L2857.23 1826.40" style="fill:none;stroke:#00a53c;stroke-opacity:0.7;stroke-width:6.25;stroke-linecap:round"/>
<path d="M3138.50 1220.54L3138.50 1882.38" style="fill:none;stroke:#00a53c;stroke-opacity:0.7;stroke-width:6.25;stroke-linecap:round"/>
<path d="M3166.63 1214.94L3419.77 1826.40" style="fill:none;stroke:#00a53c;stroke-opacity:0.7;stroke-width:6.25;stroke-linecap:round"/>
<path d="M3190.47 1199.00L3658.22 1666.99" style="fill:none;stroke:#00a53c;stroke-opacity:0.7;stroke-width:6.25;stroke-linecap:round"/>
<path d="M3206.41 1175.14L3817.55 1428.42" style="fill:none;stroke:#00a53c;stroke-opacity:0.7;stroke-width:6.25;stroke-linecap:round"/>
<path d="M3437.89 1147.00L3463.97 1147.00" style="fill:none;stroke:#00a53c;stroke-opacity:0.7;stroke-width:6.25"/><path d="M3463.97 1156.30L3473.17 1147.00L3463.97 1137.70Z" style="fill:#00a53c;fill-opacity:0.7;stroke:#00a53c;stroke-opacity:0.7;stroke-width:6.25;stroke-linejoin:miter"/>
<path d="M3665.99 1147.00L3691.33 1147.00" style="fill:none;stroke:#00a53c;stroke-opacity:0.7;stroke-width:6.25"/><path d="M3691.33 1156.30L3700.53 1147.00L3691.33 1137.70Z" style="fill:#00a53c;fill-opacity:0.7;stroke:#00a53c;stroke-opacity:0.7;stroke-width:6.25;stroke-linejoin:miter"/>
<path d="M3415.10 1032.37L3439.20 1022.38" style="fill:none;stroke:#00a53c;stroke-opacity:0.7;stroke-width:6.25"/><path d="M3442.75 1030.97L3447.69 1018.86L3435.64 1013.79Z" style="fill:#00a53c;fill-opacity:0.7;stroke:#00a53c;stroke-opacity:0.7;stroke-width:6.25;stroke-linejoin:miter"/>
<path d="M3625.83 945.04L3649.25 935.33" style="fill:none;stroke:#00a53c;stroke-opacity:0.7;stroke-width:6.25"/><path d="M3652.81 943.92L3657.75 931.81L3645.69 926.74Z" style="fill:#00a53c;fill-opacity:0.7;stroke:#00a53c;stroke-opacity:0.7;stroke-width:6.25;stroke-linejoin:miter"/>
<path d="M3350.20 935.19L3368.64 916.74" style="fill:none;stroke:#00a53c;stroke-opacity:0.7;stroke-width:6.25"/><path d="M3375.22 923.31L3375.15 910.23L3362.07 910.16Z" style="fill:#00a53c;fill-opacity:0.7;stroke:#00a53c;stroke-opacity:0.7;stroke-width:6.25;stroke-linejoin:miter"/>
<path d="M3511.49 773.82L3529.41 755.89" style="fill:none;stroke:#00a53c;stroke-opacity:0.7;stroke-width:6.25"/><path d="M3535.99 762.46L3535.92 749.38L3522.83 749.31Z" style="fill:#00a53c;fill-opacity:0.7;stroke:#00a53c;stroke-opacity:0.7;stroke-width:6.25;stroke-linejoin:miter"/>
<path d="M3253.07 870.26L3263.05 846.15" style="fill:none;stroke:#00a53c;stroke-opacity:0.7;stroke-width:6.25"/><path d="M3271.64 849.71L3266.57 837.65L3254.46 842.59Z" style="fill:#00a53c;fill-opacity:0.7;stroke:#00a53c;stroke-opacity:0.7;stroke-width:6.25;stroke-linejoin:miter"/>
<path d="M3340.36 659.42L3350.06 635.99" style="fill:none;stroke:#00a53c;stroke-opacity:0.7;stroke-width:6.25"/><path d="M3358.65 639.55L3353.58 627.49L3341.47 632.43Z" style="fill:#00a53c;fill-opacity:0.7;stroke:#00a53c;stroke-opacity:0.7;stroke-width:6.25;stroke-linejoin:miter"/>
<path d="M3138.50 847.46L3138.50 821.36" style="fill:none;stroke:#00a53c;stroke-opacity:0.7;stroke-width:6.25"/><path d="M3147.80 821.36L3138.50 812.16L3129.20 821.36Z" style="fill:#00a53c;fill-opacity:0.7;stroke:#00a53c;stroke-opacity:0.7;stroke-width:6.25;stroke-linejoin:miter"/>
<path d="M3138.50 619.25L3138.50 593.88" style="fill:none;stroke:#00a53c;stroke-opacity:0.7;stroke-width:6.25"/><path d="M3147.80 593.88L3138.50 584.68L3129.20 593.88Z" style="fill:#00a53c;fill-opacity:0.7;stroke:#00a53c;stroke-opacity:0.7;stroke-width:6.25;stroke-linejoin:miter"/>
<path d="M3023.93 870.26L3013.95 846.15" style="fill:none;stroke:#00a53c;stroke-opacity:0.7;stroke-width:6.25"/><path d="M3022.54 842.59L3010.43 837.65L3005.36 849.71Z" style="fill:#00a53c;fill-opacity:0.7;stroke:#00a53c;stroke-opacity:0.7;stroke-width:6.25;stroke-linejoin:miter"/>
<path d="M2936.64 659.42L2926.94 635.99" style="fill:none;stroke:#00a53c;stroke-opacity:0.7;stroke-width:6.25"/><path d="M2935.53 632.43L2923.42 627.49L2918.35 639.55Z" style="fill:#00a53c;fill-opacity:0.7;stroke:#00a53c;stroke-opacity:0.7;stroke-width:6.25;stroke-linejoin:miter"/>
<path d="M2926.80 935.19L2908.36 916.74" style="fill:none;stroke:#00a53c;stroke-opacity:0.7;stroke-width:6.25"/><path d="M2914.93 910.16L2901.85 910.23L2901.78 923.31Z" style="fill:#00a53c;fill-opacity:0.7;stroke:#00a53c;stroke-opacity:0.7;stroke-width:6.25;stroke-linejoin:miter"/>
<path d="M2765.51 773.82L2747.59 755.89" style="fill:none;stroke:#00a53c;stroke-opacity:0.7;stroke-width:6.25"/><path d="M2754.17 749.31L2741.08 749.38L2741.01 762.46Z" style="fill:#00a53c;fill-opacity:0.7;stroke:#00a53c;stroke-opacity:0.7;stroke-width:6.25;stroke-linejoin:miter"/>
<path d="M2861.90 1032.37L2837.80 1022.38" style="fill:none;stroke:#00a53c;stroke-opacity:0.7;stroke-width:6.25"/><path d="M2841.36 1013.79L2829.31 1018.86L2834.25 1030.97Z" style="fill:#00a53c;fill-opacity:0.7;stroke:#00a53c;stroke-opacity:0.7;stroke-width:6.25;stroke-linejoin:miter"/>
<path d="M2651.17 945.04L2627.75 935.33" style="fill:none;stroke:#00a53c;stroke-opacity:0.7;stroke-width:6.25"/><path d="M2631.31 926.74L2619.25 931.81L2624.19 943.92Z" style="fill:#00a53c;fill-opacity:0.7;stroke:#00a53c;stroke-opacity:0.7;stroke-width:6.25;stroke-linejoin:miter"/>
<path d="M2839.11 1147.00L2813.03 1147.00" style="fill:none;stroke:#00a53c;stroke-opacity:0.7;stroke-width:6.25"/><path d="M2813.03 1137.70L2803.83 1147.00L2813.03 1156.30Z" style="fill:#00a53c;fill-opacity:0.7;stroke:#00a53c;stroke-opacity:0.7;stroke-width:6.25;stroke-linejoin:miter"/>
<path d="M2611.01 1147.00L2585.67 1147.00" style="fill:none;stroke:#00a53c;stroke-opacity:0.7;stroke-width:6.25"/><path d="M2585.67 1137.70L2576.47 1147.00L2585.67 1156.30Z" style="fill:#00a53c;fill-opacity:0.7;stroke:#00a53c;stroke-opacity:0.7;stroke-width:6.25;stroke-linejoin:miter"/>
<path d="M2861.90 1261.63L2837.80 1271.62" style="fill:none;stroke:#00a53c;stroke-opacity:0.7;stroke-width:6.25"/><path d="M2834.25 1263.03L2829.31 1275.14L2841.36 1280.21Z" style="fill:#00a53c;fill-opacity:0.7;stroke:#00a53c;stroke-opacity:0.7;stroke-width:6.25;stroke-linejoin:miter"/>
<path d="M2651.17 1348.96L2627.75 1358.67" style="fill:none;stroke:#00a53c;stroke-opacity:0.7;stroke-width:6.25"/><path d="M2624.19 1350.08L2619.25 1362.19L2631.31 1367.26Z" style="fill:#00a53c;fill-opacity:0.7;stroke:#00a53c;stroke-opacity:0.7;stroke-width:6.25;stroke-linejoin:miter"/>
<path d="M2926.80 1358.81L2908.36 1377.26" style="fill:none;stroke:#00a53c;stroke-opacity:0.7;stroke-width:6.25"/><path d="M2901.78 1370.69L2901.85 1383.77L2914.93 1383.84Z" style="fill:#00a53c;fill-opacity:0.7;stroke:#00a53c;stroke-opacity:0.7;stroke-width:6.25;stroke-linejoin:miter"/>
<path d="M2765.51 1520.18L2747.59 1538.11" style="fill:none;stroke:#00a53c;stroke-opacity:0.7;stroke-width:6.25"/><path d="M2741.01 1531.54L2741.08 1544.62L2754.17 1544.69Z" style="fill:#00a53c;fill-opacity:0.7;stroke:#00a53c;stroke-opacity:0.7;stroke-width:6.25;stroke-linejoin:miter"/>
<path d="M3023.93 1423.74L3013.95 1447.85" style="fill:none;stroke:#00a53c;stroke-opacity:0.7;stroke-width:6.25"/><path d="M3005.36 1444.29L3010.43 1456.35L3022.54 1451.41Z" style="fill:#00a53c;fill-opacity:0.7;stroke:#00a53c;stroke-opacity:0.7;stroke-width:6.25;stroke-linejoin:miter"/>
<path d="M2936.64 1634.58L2926.94 1658.01" style="fill:none;stroke:#00a53c;stroke-opacity:0.7;stroke-width:6.25"/><path d="M2918.35 1654.45L2923.42 1666.51L2935.53 1661.57Z" style="fill:#00a53c;fill-opacity:0.7;stroke:#00a53c;stroke-opacity:0.7;stroke-width:6.25;stroke-linejoin:miter"/>
<path d="M3138.50 1446.54L3138.50 1472.64" style="fill:none;stroke:#00a53c;stroke-opacity:0.7;stroke-width:6.25"/><path d="M3129.20 1472.64L3138.50 1481.84L3147.80 1472.64Z" style="fill:#00a53c;fill-opacity:0.7;stroke:#00a53c;stroke-opacity:0.7;stroke-width:6.25;stroke-linejoin:miter"/>
<path d="M3138.50 1674.75L3138.50 1700.12" style="fill:none;stroke:#00a53c;stroke-opacity:0.7;stroke-width:6.25"/><path d="M3129.20 1700.12L3138.50 1709.32L3147.80 1700.12Z" style="fill:#00a53c;fill-opacity:0.7;stroke:#00a53c;stroke-opacity:0.7;stroke-width:6.25;stroke-linejoin:miter"/>
<path d="M3253.07 1423.74L3263.05 1447.85" style="fill:none;stroke:#00a53c;stroke-opacity:0.7;stroke-width:6.25"/><path d="M3254.46 1451.41L3266.57 1456.35L3271.64 1444.29Z" style="fill:#00a53c;fill-opacity:0.7;stroke:#00a53c;stroke-opacity:0.7;stroke-width:6.25;stroke-linejoin:miter"/>
<path d="M3340.36 1634.58L3350.06 1658.01" style="fill:none;stroke:#00a53c;stroke-opacity:0.7;stroke-width:6.25"/><path d="M3341.47 1661.57L3353.58 1666.51L3358.65 1654.45Z" style="fill:#00a53c;fill-opacity:0.7;stroke:#00a53c;stroke-opacity:0.7;stroke-width:6.25;stroke-linejoin:miter"/>
<path d="M3350.20 1358.81L3368.64 1377.26" style="fill:none;stroke:#00a53c;stroke-opacity:0.7;stroke-width:6.25"/><path d="M3362.07 1383.84L3375.15 1383.77L3375.22 1370.69Z" style="fill:#00a53c;fill-opacity:0.7;stroke:#00a53c;stroke-opacity:0.7;stroke-width:6.25;stroke-linejoin:miter"/>
<path d="M3511.49 1520.18L3529.41 1538.11" style="fill:none;stroke:#00a53c;stroke-opacity:0.7;stroke-width:6.25"/><path d="M3522.83 1544.69L3535.92 1544.62L3535.99 1531.54Z" style="fill:#00a53c;fill-opacity:0.7;stroke:#00a53c;stroke-opacity:0.7;stroke-width:6.25;stroke-linejoin:miter"/>
<path d="M3415.10 1261.63L3439.20 1271.62" style="fill:none;stroke:#00a53c;stroke-opacity:0.7;stroke-width:6.25"/><path d="M3435.64 1280.21L3447.69 1275.14L3442.75 1263.03Z" style="fill:#00a53c;fill-opacity:0.7;stroke:#00a53c;stroke-opacity:0.7;stroke-width:6.25;stroke-linejoin:miter"/>
<path d="M3625.83 1348.96L3649.25 1358.67" style="fill:none;stroke:#00a53c;stroke-opacity:0.7;stroke-width:6.25"/><path d="M3645.69 1367.26L3657.75 1362.19L3652.81 1350.08Z" style="fill:#00a53c;fill-opacity:0.7;stroke:#00a53c;stroke-opacity:0.7;stroke-width:6.25;stroke-linejoin:miter"/>
<circle cx="3138.50" cy="1147.00" r="29.4" style="fill:#ff0000;stroke:#000;stroke-width:8.333"/>
<rect x="3123.50" y="1137.50" width="30" height="7.4" fill="#fff"/>
<rect x="3134.80" y="1126.50" width="7.4" height="29" fill="#fff"/>
<rect x="3731" y="444" width="248" height="128.5" rx="16" style="fill:#ffff33;stroke:#333;stroke-width:4.17"/>
<rect x="3736" y="655" width="231" height="75.5" rx="16" style="fill:#a6f1a6;stroke:#333;stroke-width:4.17"/>
<rect x="2158.5" y="166.5" width="1960.0" height="1961.0" style="fill:none;stroke:#2c3e50;stroke-width:5"/>
<text transform="translate(251.9 1779.0) scale(1 1.055)" style="font-family:'Liberation Sans';font-size:45.83px;fill:#222222" text-anchor="middle">-2</text>
<text transform="translate(462.6 1849.0) scale(1 1.055)" style="font-family:'Liberation Sans';font-size:45.83px;fill:#222222" text-anchor="middle">-1</text>
<text transform="translate(683.7 1921.3) scale(1 1.055)" style="font-family:'Liberation Sans';font-size:45.83px;fill:#222222" text-anchor="middle">0</text>
<text transform="translate(906.2 1993.8) scale(1 1.055)" style="font-family:'Liberation Sans';font-size:45.83px;fill:#222222" text-anchor="middle">1</text>
<text transform="translate(1133.6 2069.8) scale(1 1.055)" style="font-family:'Liberation Sans';font-size:45.83px;fill:#222222" text-anchor="middle">2</text>
<text transform="translate(1395.6 2029.9) scale(1 1.055)" style="font-family:'Liberation Sans';font-size:45.83px;fill:#222222" text-anchor="middle">-2</text>
<text transform="translate(1516.4 1900.9) scale(1 1.055)" style="font-family:'Liberation Sans';font-size:45.83px;fill:#222222" text-anchor="middle">-1</text>
<text transform="translate(1637.1 1777.3) scale(1 1.055)" style="font-family:'Liberation Sans';font-size:45.83px;fill:#222222" text-anchor="middle">0</text>
<text transform="translate(1749.9 1659.1) scale(1 1.055)" style="font-family:'Liberation Sans';font-size:45.83px;fill:#222222" text-anchor="middle">1</text>
<text transform="translate(1860.4 1545.9) scale(1 1.055)" style="font-family:'Liberation Sans';font-size:45.83px;fill:#222222" text-anchor="middle">2</text>
<text transform="translate(1981.5 620.7) scale(1 1.055)" style="font-family:'Liberation Sans';font-size:45.83px;fill:#222222" text-anchor="middle">3</text>
<text transform="translate(1973.2 759.0) scale(1 1.055)" style="font-family:'Liberation Sans';font-size:45.83px;fill:#222222" text-anchor="middle">2</text>
<text transform="translate(1966.2 896.1) scale(1 1.055)" style="font-family:'Liberation Sans';font-size:45.83px;fill:#222222" text-anchor="middle">1</text>
<text transform="translate(1960.5 1030.9) scale(1 1.055)" style="font-family:'Liberation Sans';font-size:45.83px;fill:#222222" text-anchor="middle">0</text>
<text transform="translate(1950.8 1165.1) scale(1 1.055)" style="font-family:'Liberation Sans';font-size:45.83px;fill:#222222" text-anchor="middle">-1</text>
<text transform="translate(1946.3 1297.4) scale(1 1.055)" style="font-family:'Liberation Sans';font-size:45.83px;fill:#222222" text-anchor="middle">-2</text>
<text transform="translate(1939.3 1427.3) scale(1 1.055)" style="font-family:'Liberation Sans';font-size:45.83px;fill:#222222" text-anchor="middle">-3</text>
<text x="646.2" y="1976.9" style="font-family:'Liberation Sans';font-size:41.67px;fill:#2c3e50;font-weight:normal;" text-anchor="middle" >x</text>
<text x="1697.4" y="1817.6" style="font-family:'Liberation Sans';font-size:41.67px;fill:#2c3e50;font-weight:normal;" text-anchor="middle" >y</text>
<text x="2051.3" y="995.8" style="font-family:'Liberation Sans';font-size:41.67px;fill:#2c3e50;font-weight:normal;" text-anchor="middle" >z</text>
<text transform="translate(2157.9 2176.3) scale(1 1.055)" style="font-family:'Liberation Sans';font-size:45.83px;fill:#222222" text-anchor="middle">-4</text>
<text transform="translate(2402.9 2176.3) scale(1 1.055)" style="font-family:'Liberation Sans';font-size:45.83px;fill:#222222" text-anchor="middle">-3</text>
<text transform="translate(2647.9 2176.3) scale(1 1.055)" style="font-family:'Liberation Sans';font-size:45.83px;fill:#222222" text-anchor="middle">-2</text>
<text transform="translate(2892.9 2176.3) scale(1 1.055)" style="font-family:'Liberation Sans';font-size:45.83px;fill:#222222" text-anchor="middle">-1</text>
<text transform="translate(3137.9 2176.3) scale(1 1.055)" style="font-family:'Liberation Sans';font-size:45.83px;fill:#222222" text-anchor="middle">0</text>
<text transform="translate(3382.9 2176.3) scale(1 1.055)" style="font-family:'Liberation Sans';font-size:45.83px;fill:#222222" text-anchor="middle">1</text>
<text transform="translate(3627.9 2176.3) scale(1 1.055)" style="font-family:'Liberation Sans';font-size:45.83px;fill:#222222" text-anchor="middle">2</text>
<text transform="translate(3872.9 2176.3) scale(1 1.055)" style="font-family:'Liberation Sans';font-size:45.83px;fill:#222222" text-anchor="middle">3</text>
<text transform="translate(4117.9 2176.3) scale(1 1.055)" style="font-family:'Liberation Sans';font-size:45.83px;fill:#222222" text-anchor="middle">4</text>
<text transform="translate(2142.5 2144.4) scale(1 1.055)" style="font-family:'Liberation Sans';font-size:45.83px;fill:#222222" text-anchor="end">-4</text>
<text transform="translate(2142.5 1899.2) scale(1 1.055)" style="font-family:'Liberation Sans';font-size:45.83px;fill:#222222" text-anchor="end">-3</text>
<text transform="translate(2142.5 1654.1) scale(1 1.055)" style="font-family:'Liberation Sans';font-size:45.83px;fill:#222222" text-anchor="end">-2</text>
<text transform="translate(2142.5 1409.0) scale(1 1.055)" style="font-family:'Liberation Sans';font-size:45.83px;fill:#222222" text-anchor="end">-1</text>
<text transform="translate(2142.5 1163.9) scale(1 1.055)" style="font-family:'Liberation Sans';font-size:45.83px;fill:#222222" text-anchor="end">0</text>
<text transform="translate(2142.5 918.7) scale(1 1.055)" style="font-family:'Liberation Sans';font-size:45.83px;fill:#222222" text-anchor="end">1</text>
<text transform="translate(2142.5 673.6) scale(1 1.055)" style="font-family:'Liberation Sans';font-size:45.83px;fill:#222222" text-anchor="end">2</text>
<text transform="translate(2142.5 428.5) scale(1 1.055)" style="font-family:'Liberation Sans';font-size:45.83px;fill:#222222" text-anchor="end">3</text>
<text transform="translate(2142.5 183.4) scale(1 1.055)" style="font-family:'Liberation Sans';font-size:45.83px;fill:#222222" text-anchor="end">4</text>
<text x="3138.5" y="2237.9" style="font-family:'Liberation Sans';font-size:50px;fill:#2c3e50;font-weight:normal;" text-anchor="middle" >x</text>
<text x="2076" y="1147.0" transform="rotate(-90 2076 1147.0)" style="font-family:'Liberation Sans';font-size:50px;fill:#2c3e50" text-anchor="middle">y</text>
<text x="1009.6" y="86.0" textLength="392.5" lengthAdjust="spacingAndGlyphs" style="font-family:'Liberation Sans';font-size:53.6px;fill:#222222;font-weight:bold;unicode-bidi:bidi-override;direction:ltr" text-anchor="middle">ןועט יפוסניא לית</text>
<text x="3136.8" y="84.6" textLength="739.5" lengthAdjust="spacingAndGlyphs" style="font-family:'Liberation Sans';font-size:68.27px;fill:#2c3e50;font-weight:bold;unicode-bidi:bidi-override;direction:ltr" text-anchor="middle">ילאידר הדש - בחור ךתח</text>
<text x="3138.1" y="2006.2" textLength="162.2" lengthAdjust="spacingAndGlyphs" style="font-family:'Liberation Sans';font-size:46.04px;fill:#222222;font-weight:normal;unicode-bidi:bidi-override;direction:ltr" text-anchor="middle">ןועט לית</text>
<text x="3011.6" y="2103.3" style="font-family:'Liberation Serif';font-style:italic;font-size:41.36px;fill:#222222" text-anchor="middle">λ</text>
<text x="3046.25" y="2103.3" style="font-family:'Liberation Sans';font-size:41.36px;fill:#222222" text-anchor="middle">=</text>
<text x="3171.3" y="2103.3" textLength="203.5" lengthAdjust="spacingAndGlyphs" style="font-family:'Liberation Sans';font-size:41.36px;fill:#222222;unicode-bidi:bidi-override;direction:ltr" text-anchor="middle">תיווק תופיפצ</text>
<text x="3851.1" y="708.1" textLength="202" lengthAdjust="spacingAndGlyphs" style="font-family:'Liberation Sans';font-size:41.36px;fill:#222222;font-weight:normal;unicode-bidi:bidi-override;direction:ltr" text-anchor="middle">r/1-כ ךעוד</text>
<g style="font-family:'Liberation Serif';fill:#222"><text x="3753.5" y="532.7" style="font-size:67px;font-style:italic">E</text><path d="M3762.8 472.6L3789.5 472.6M3781.5 465.5L3791 472.6L3781.5 479.7" style="stroke:#222;stroke-width:2.6;fill:none"/><rect x="3805.2" y="507.2" width="39.3" height="3.6" fill="#222"/><rect x="3805.2" y="521" width="39.3" height="3.6" fill="#222"/><rect x="3857" y="519.7" width="67.4" height="4" fill="#222"/><text x="3856.5" y="506.8" style="font-size:47px">2<tspan style="font-style:italic">kλ</tspan></text><text x="3881" y="550" style="font-size:47px;font-style:italic">r</text><text x="3931.5" y="533" style="font-size:67px;font-style:italic">r</text><path d="M3936.4 494.7L3946.5 483.6L3956.5 494.7L3953.5 494.7L3946.5 488.5L3939.4 494.7Z" fill="#222"/></g>
</svg>
</body></html>
